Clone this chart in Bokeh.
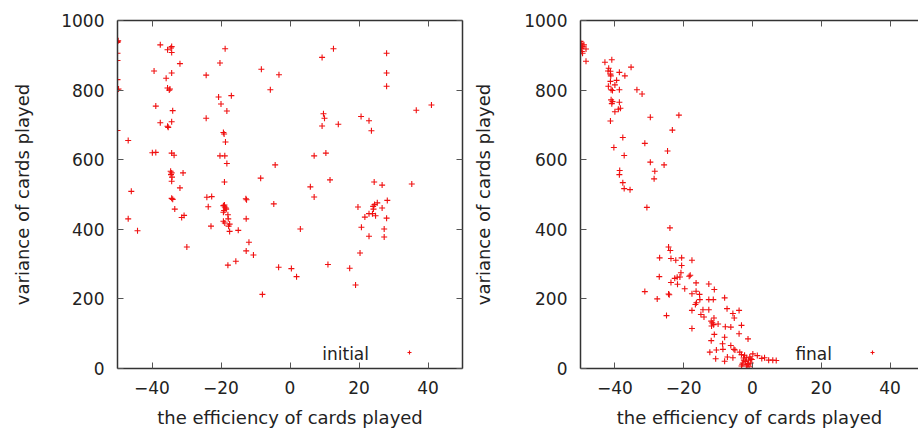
from bokeh.plotting import figure
from bokeh.models import Range1d, LinearAxis, FixedTicker, Legend, LegendItem, Label, ColumnDataSource
from bokeh.layouts import row
from bokeh.embed import file_html
from bokeh.resources import INLINE

x_ticks = [-40, -20, 0, 20, 40]
y_ticks = [0, 200, 400, 600, 800, 1000]
x_label = "the efficiency of cards played"
y_label = "variance of cards played"
series_names = ["initial", "final"]

initial_x = [
    -50, -50, -49.8, -50, -50, -50, -50, -49.7, -50,
    -37.6, -34.3, -34.5, -35.5, -34.3, -18.8, -31.9, -20.3, -8.3, -3.2,
    -39.4, -34.3, -24.3, -35.9, -35.5, -34.8, -35.0, -5.7, -20.7, -17.0,
    -20.0, -18.3, -38.9, -34.0, -24.3, -37.6, -34.3, -35.5, -35.3, -19.3,
    -19.1, -18.7, -46.9, -39.9, -38.9, -34.3, -33.6, -20.3, -18.9, -18.3,
    -4.3, -8.5, -31.0, -34.6, -34.3, -34.5, -34.2, -34.3, -19.0, -31.9,
    -46.0, -34.3, -34.0, -24.1, -22.7, -12.8,
    -33.4, -46.9, -44.2, -31.4, -30.7, -29.9, -23.7, -22.9,
    -19.3, -18.9, -18.5, -19.1, -19.3, -18.0, -17.9, -19.3, -18.9, -17.5,
    -17.8, -17.5, -19.0, -18.6, -15.0, -12.6, -12.7, -11.9, -12.7, -10.6,
    -15.7, -18.0, -4.7, -3.3, -8.0,
    0.4, 1.9, 3.0, 7.0, 11.0, 17.3, 19.0, 19.7, 20.3, 20.7, 21.7, 22.9,
    23.9, 22.9, 24.1, 24.5, 25.3, 24.2, 24.8, 26.7, 28.2, 28.0, 27.3, 27.3,
    12.6, 9.3, 28.0, 28.0, 28.0, 9.7, 10.0, 9.3, 14.0, 20.6, 22.9, 23.6,
    36.6, 41.0, 7.0, 10.4, 11.6, 5.9, 24.4, 26.7, 35.3,
]
initial_y = [
    940, 937, 942, 906, 885, 830, 801, 803, 684,
    930, 925, 921, 916, 908, 919, 876, 878, 860, 844,
    855, 849, 843, 834, 806, 803, 800, 801, 780, 784,
    760, 740, 754, 741, 719, 706, 709, 696, 693, 678,
    674, 651, 655, 620, 621, 619, 613, 611, 611, 589,
    585, 547, 562, 567, 562, 557, 550, 538, 536, 519,
    509, 489, 486, 492, 494, 488,
    458, 430, 396, 434, 440, 349, 465, 409,
    468, 464, 458, 454, 449, 442, 430, 423, 418, 415,
    409, 394, 470, 461, 397, 485, 430, 363, 338, 326,
    308, 297, 473, 291, 213,
    287, 264, 401, 493, 299, 288, 240, 464, 332, 406, 435, 445,
    445, 380, 466, 471, 476, 458, 439, 461, 483, 432, 401, 378,
    919, 894, 906, 849, 811, 732, 719, 697, 702, 724, 712, 683,
    742, 757, 611, 619, 542, 522, 536, 527, 530,
]

final_x = [
    -50, -49.8, -49.4, -49.6, -49.0, -48.4, -49.4, -50, -49.7,
    -48.4, -42.9, -40.9, -41.8, -41.3, -42.0, -35.3, -38.7, -37.1, -41.2,
    -41.3, -41.3, -39.5, -40.0, -41.9, -41.1, -40.7, -38.7, -33.6, -32.1,
    -41.1, -40.7, -40.9, -38.7, -38.4, -39.0, -40.0, -41.3, -29.7, -21.4,
    -23.3, -37.7, -31.3, -40.3, -24.7, -37.3, -29.7, -25.7, -28.4, -28.6,
    -38.6, -38.7, -37.7, -37.3, -35.6,
    -30.7, -24.0, -24.4, -23.9, -27.0, -23.7, -22.3, -20.6, -17.6, -20.6,
    -20.8, -21.1, -21.9, -22.6, -18.1, -18.4, -27.1, -23.7, -21.8, -19.7,
    -16.4, -12.7, -31.3, -27.7, -24.4, -24.2, -17.6, -16.4, -15.4, -15.3,
    -16.3, -16.6, -11.1, -12.7, -11.4, -8.1, -25.0, -17.6, -14.4, -12.7,
    -15.0, -14.1, -11.2, -12.0, -11.7, -11.3, -11.9, -10.0, -7.4, -3.9,
    -5.7, -5.3, -3.2, -7.9, -6.3, -17.6, -11.1, -3.9, -8.1, -1.3,
    -12.0, -8.7, -8.6, -6.3, -5.4, -5.1, -10.5, -12.4, -3.7, -3.2,
    -10.7, -8.1, -7.3, -5.7,
    -2.3, -1.8, -2.5, -1.1, -0.5, -1.5, -2.8, -0.2, 0.1, 1.4,
    2.7, 3.5, 4.7, 5.9, 6.9, -1.8, -3.2, -2.0, -1.0, -2.6,
    -0.8, -3.0, -1.2, -0.5,
]
final_y = [
    940, 933, 925, 911, 930, 918, 906, 935, 920,
    883, 880, 887, 863, 854, 855, 866, 851, 841, 841,
    846, 825, 828, 815, 811, 801, 799, 801, 801, 789,
    772, 767, 761, 765, 748, 745, 738, 711, 722, 728,
    685, 664, 647, 635, 625, 612, 593, 585, 567, 545,
    569, 557, 534, 517, 514,
    463, 404, 349, 339, 318, 316, 311, 318, 311, 296,
    275, 263, 262, 259, 268, 265, 264, 247, 242, 229,
    246, 243, 221, 200, 214, 212, 215, 222, 213, 198,
    189, 184, 227, 198, 198, 203, 152, 167, 169, 169,
    155, 148, 145, 136, 131, 126, 122, 128, 172, 167,
    158, 145, 124, 120, 119, 115, 98, 100, 90, 85,
    80, 71, 55, 66, 55, 53, 53, 47, 47, 40,
    28, 21, 33, 31,
    38, 31, 24, 24, 16, 11, 16, 26, 42, 37,
    29, 31, 24, 24, 23, 7, 7, 20, 5, 30,
    33, 12, 14, 28,
]

FONT = "DejaVu Sans"
RED = "#f01010"
AXIS_COLOR = "#333333"
TEXT_COLOR = "#222222"


def style_main_axis(ax, label, standoff, label_standoff):
    ax.axis_label = label
    ax.axis_label_text_font = FONT
    ax.axis_label_text_font_size = "18px"
    ax.axis_label_text_font_style = "normal"
    ax.axis_label_text_color = TEXT_COLOR
    ax.axis_label_standoff = label_standoff
    ax.major_label_text_font = FONT
    ax.major_label_text_font_size = "17px"
    ax.major_label_text_color = TEXT_COLOR
    ax.major_label_standoff = standoff
    ax.axis_line_color = AXIS_COLOR
    ax.axis_line_width = 1.5
    ax.major_tick_in = 6
    ax.major_tick_out = 0
    ax.major_tick_line_color = "#555555"
    ax.minor_tick_line_color = None


def mirror_axis(ticks):
    ax = LinearAxis(ticker=FixedTicker(ticks=ticks))
    ax.major_label_text_color = None
    ax.major_label_standoff = 0
    ax.axis_line_color = AXIS_COLOR
    ax.axis_line_width = 1.5
    ax.major_tick_in = 6
    ax.major_tick_out = 0
    ax.major_tick_line_color = "#555555"
    ax.minor_tick_line_color = None
    return ax


def make_panel(xs, ys, name, width, min_left, min_right, x_end, ylab_standoff, mirror_right):
    p = figure(width=width, height=431,
               x_range=Range1d(-50, x_end), y_range=Range1d(0, 1000),
               output_backend="svg", toolbar_location=None,
               min_border_left=min_left, min_border_right=min_right,
               min_border_top=20, min_border_bottom=63)
    p.outline_line_color = None
    p.xgrid.grid_line_color = None
    p.ygrid.grid_line_color = None
    p.background_fill_color = "white"
    p.border_fill_color = "white"

    p.xaxis.ticker = FixedTicker(ticks=x_ticks)
    p.yaxis.ticker = FixedTicker(ticks=y_ticks)
    style_main_axis(p.xaxis[0], x_label, 12, 10)
    style_main_axis(p.yaxis[0], y_label, 13, ylab_standoff)

    p.add_layout(mirror_axis(x_ticks), "above")
    if mirror_right:
        p.add_layout(mirror_axis(y_ticks), "right")

    src = ColumnDataSource(data=dict(x=xs, y=ys))
    r = p.scatter(x="x", y="y", source=src, marker="cross", size=6,
                  line_color=RED, line_width=1.1)

    legend = Legend(items=[LegendItem(label=" ", renderers=[r])],
                    location=(287, 11), padding=0, margin=0, spacing=0,
                    glyph_width=10, glyph_height=10, label_standoff=0,
                    label_width=0, label_height=10,
                    label_text_color=None,
                    background_fill_alpha=0, border_line_color=None)
    p.add_layout(legend)

    p.add_layout(Label(x=251.5, y=15, x_units="screen", y_units="screen",
                       text=name, text_align="right", text_baseline="alphabetic",
                       text_font=FONT, text_font_size="17px",
                       text_color=TEXT_COLOR))
    return p


p1 = make_panel(initial_x, initial_y, series_names[0], 470, 117, 8, 50, 25, True)
p2 = make_panel(final_x, final_y, series_names[1], 448, 109, 0, 48.26, 27, False)

layout = row(p1, p2)
open("out.html", "w").write(file_html(layout, INLINE))
